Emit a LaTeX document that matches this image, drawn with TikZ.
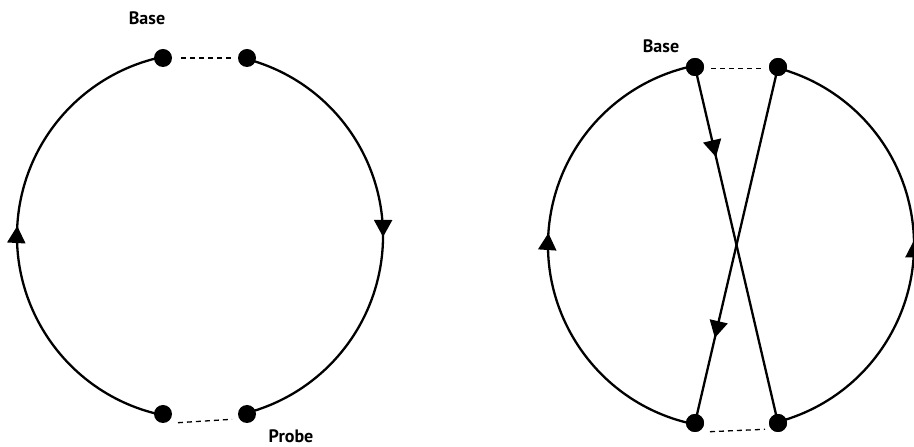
\documentclass[tikz,border=0pt]{standalone}
\usepackage{fontspec}
\setmainfont{PT Sans}
\usetikzlibrary{arrows.meta,decorations.markings}
\tikzset{
  dot/.style={circle,fill=black,minimum size=18pt,inner sep=0pt},
  solid line/.style={line width=2.3pt},
  gap line/.style={line width=1.3pt,dash pattern=on 5pt off 4pt},
  lbl/.style={font=\fontsize{18}{20}\selectfont\bfseries,anchor=base,inner sep=0pt},
  tipmark/.style={postaction={decorate,decoration={markings,
     mark=at position #1 with {\arrow{Triangle[width=18pt,length=17pt]}}}}}
}
\begin{document}
\begin{tikzpicture}[x=1pt,y=1pt]
\useasboundingbox (0,0) rectangle (914,447);
% ---------- left diagram ----------
\coordinate (LC) at (200,211);
\draw[solid line,tipmark=0.52] ([shift={(LC)}]258.3:183) arc[start angle=258.3,end angle=101.7,radius=183];
\draw[solid line,tipmark=0.502] ([shift={(LC)}]75.2:183) arc[start angle=75.2,end angle=-75.2,radius=183];
\coordinate (ltd1) at (181,389);
\coordinate (ltd2) at (232,389);
\coordinate (lbd1) at (178,24.3);
\coordinate (lbd2) at (232,27.7);
\draw[gap line] (ltd1) -- (ltd2);
\draw[gap line] (lbd1) -- (lbd2);
\node[dot] (LTL) at (163,389) {};
\node[dot] (LTR) at (247,389) {};
\node[dot] (LBL) at (163,33) {};
\node[dot] (LBR) at (247,33) {};
\node[lbl] (lbase) at (147,422) {Base};
\node[lbl] (lprobe) at (291,4) {Probe};
% ---------- right diagram ----------
\coordinate (RC) at (731,202);
\draw[solid line,tipmark=0.524] ([shift={(RC)}]258.3:183) arc[start angle=258.3,end angle=101.7,radius=183];
\draw[solid line,tipmark=0.51] ([shift={(RC)}]-75.2:183) arc[start angle=-75.2,end angle=75.2,radius=183];
\coordinate (rtd1) at (711,378.7);
\coordinate (rtd2) at (762,378.7);
\coordinate (rbd1) at (710,15.3);
\coordinate (rbd2) at (765,17.7);
\draw[gap line] (rtd1) -- (rtd2);
\draw[gap line] (rbd1) -- (rbd2);
\node[dot] (RTL) at (695,380) {};
\node[dot] (RTR) at (778,380) {};
\node[dot] (RBL) at (695,24) {};
\node[dot] (RBR) at (778,24) {};
\draw[solid line,tipmark=0.253] (RTL.center) -- (RBR.center);
\draw[solid line,tipmark=0.761] (RTR.center) -- (RBL.center);
\node[dot] at (RTL) {};
\node[dot] at (RTR) {};
\node[dot] at (RBL) {};
\node[dot] at (RBR) {};
\node[lbl] (rbase) at (661,394) {Base};
\end{tikzpicture}
\end{document}
